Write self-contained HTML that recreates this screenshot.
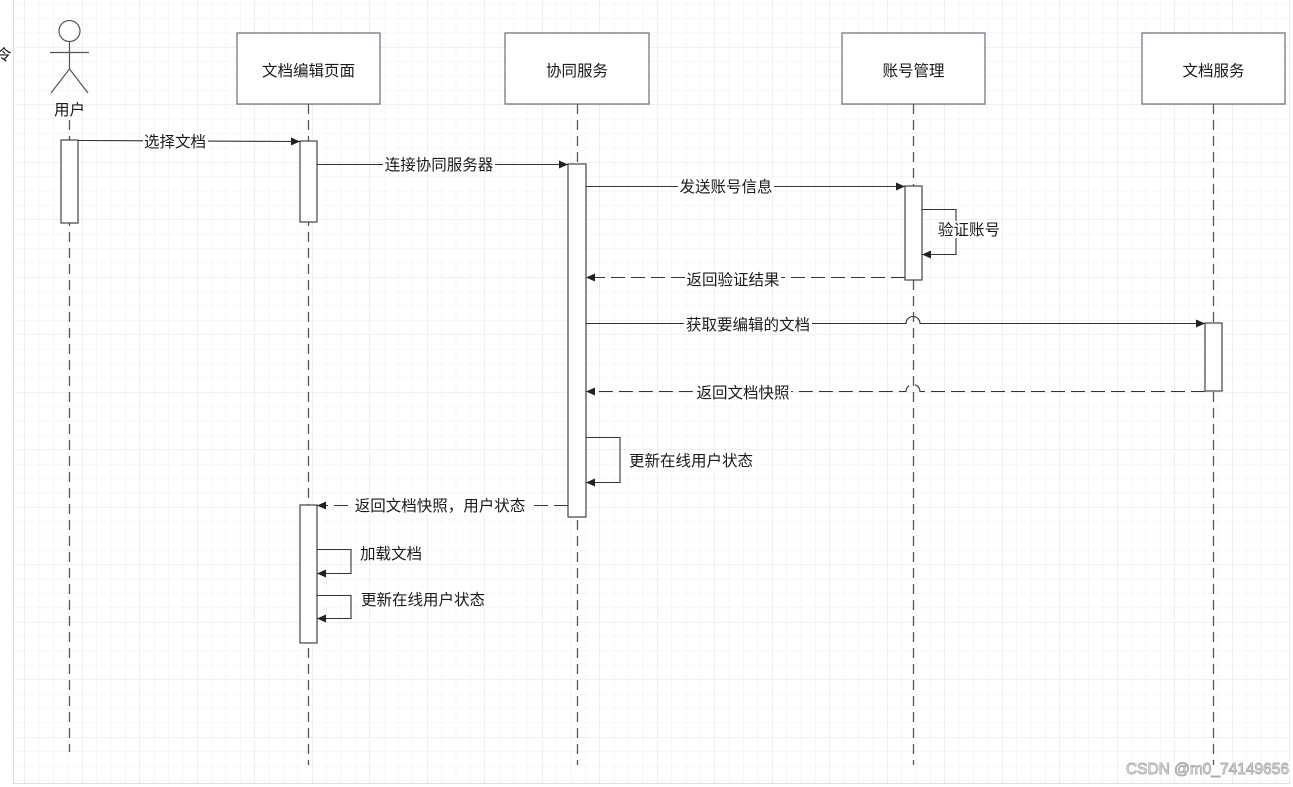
<!DOCTYPE html>
<html><head><meta charset="utf-8"><style>
body{margin:0;background:#fff}
svg{display:block}
text{font-family:"Liberation Sans","Noto Sans CJK SC",sans-serif;font-size:15.5px;fill:#1a1a1a}
</style></head><body>
<svg width="1293" height="787" viewBox="0 0 1293 787" xmlns="http://www.w3.org/2000/svg">
<defs>
<pattern id="minor" x="24.5" y="47" width="14.375" height="14.375" patternUnits="userSpaceOnUse">
<path d="M0 0H14.375M0 0V14.375" stroke="#efefef" stroke-width="1" fill="none"/>
</pattern>
<pattern id="major" x="24.5" y="47" width="57.5" height="57.5" patternUnits="userSpaceOnUse">
<path d="M0 0H57.5M0 0V57.5" stroke="#e0e0e0" stroke-width="1" fill="none"/>
</pattern>
<marker id="ar" markerWidth="10" markerHeight="10" refX="9" refY="5" orient="auto" markerUnits="userSpaceOnUse">
<path d="M0 1L9 5L0 9Z" fill="#222"/>
</marker>
</defs>
<rect x="13" y="0" width="1277" height="783" fill="url(#minor)"/>
<rect x="13" y="0" width="1277" height="783" fill="url(#major)"/>
<line x1="13.5" y1="0" x2="13.5" y2="783" stroke="#ddd"/>
<line x1="13" y1="783.5" x2="1290" y2="783.5" stroke="#ddd"/>
<text x="-4" y="60" font-size="14" fill="#555">令</text>

<g stroke="#555" stroke-width="1.3" stroke-dasharray="10 6" fill="none">
<line x1="69.5" y1="120" x2="69.5" y2="752"/>
<line x1="308.5" y1="104" x2="308.5" y2="765"/>
<line x1="577.5" y1="104" x2="577.5" y2="765"/>
<line x1="913.5" y1="104" x2="913.5" y2="765"/>
<line x1="1213.5" y1="104" x2="1213.5" y2="765"/>
</g>

<g stroke="#555" stroke-width="1.2" fill="none">
<circle cx="69.5" cy="31" r="10.5" fill="#fff"/>
<line x1="69.5" y1="42" x2="69.5" y2="69"/>
<line x1="50" y1="52.5" x2="89" y2="52.5"/>
<line x1="69.5" y1="69" x2="51" y2="93"/>
<line x1="69.5" y1="69" x2="88" y2="93"/>
</g>
<text x="69.5" y="115" text-anchor="middle" font-size="16">用户</text>

<g fill="#fff" stroke="#6b6b80" stroke-width="1.2">
<rect x="237" y="33" width="143" height="71"/>
<rect x="505" y="33" width="144" height="71"/>
<rect x="842" y="33" width="143" height="71"/>
<rect x="1142" y="33" width="143" height="71"/>
</g>
<text x="308.5" y="76" text-anchor="middle">文档编辑页面</text>
<text x="577" y="76" text-anchor="middle">协同服务</text>
<text x="913.5" y="76" text-anchor="middle">账号管理</text>
<text x="1213.5" y="76" text-anchor="middle">文档服务</text>

<g fill="#fff" stroke="#444" stroke-width="1.2">
<rect x="61" y="140" width="17" height="83"/>
<rect x="300" y="141" width="17" height="81"/>
<rect x="568" y="164" width="18" height="353"/>
<rect x="905" y="186" width="17" height="94"/>
<rect x="1205" y="323" width="17" height="68"/>
<rect x="300" y="505" width="17" height="138"/>
</g>

<g stroke="#333" stroke-width="1.1" fill="none" marker-end="url(#ar)">
<line x1="78" y1="140.5" x2="300" y2="141.5"/>
<line x1="317" y1="164.5" x2="568" y2="164.5"/>
<line x1="586" y1="186.5" x2="905" y2="186.5"/>
<path d="M922 209.5H956V254.5H922"/>
<line x1="905" y1="277.5" x2="586" y2="277.5" stroke-dasharray="14 6"/>
<path d="M586 323.5H906A7 7 0 0 1 920 323.5H1205"/>
<path d="M1205 391.5H920A7 7 0 0 0 906 391.5H586" stroke-dasharray="14 6"/>
<path d="M586 437.5H620V482.5H586"/>
<line x1="568" y1="505.5" x2="317" y2="505.5" stroke-dasharray="14 6"/>
<path d="M317 549.5H351V573.5H317"/>
<path d="M317 595.5H351V618.5H317"/>
</g>

<g>
<rect x="143" y="133" width="65" height="17" fill="#fff"/>
<text x="175" y="147" text-anchor="middle">选择文档</text>
<rect x="383" y="156" width="112" height="17" fill="#fff"/>
<text x="439" y="170" text-anchor="middle">连接协同服务器</text>
<rect x="678" y="178" width="96" height="17" fill="#fff"/>
<text x="726" y="192" text-anchor="middle">发送账号信息</text>
<rect x="937" y="221" width="65" height="17" fill="#fff"/>
<text x="969" y="235" text-anchor="middle">验证账号</text>
<rect x="685" y="271" width="96" height="17" fill="#fff"/>
<text x="733" y="285" text-anchor="middle">返回验证结果</text>
<rect x="684" y="316" width="128" height="17" fill="#fff"/>
<text x="748" y="330" text-anchor="middle">获取要编辑的文档</text>
<rect x="695" y="384" width="96" height="17" fill="#fff"/>
<text x="743" y="398" text-anchor="middle">返回文档快照</text>
<rect x="627" y="452" width="128" height="17" fill="#fff"/>
<text x="691" y="466" text-anchor="middle">更新在线用户状态</text>
<rect x="353" y="497" width="175" height="17" fill="#fff"/>
<text x="440" y="511" text-anchor="middle">返回文档快照，用户状态</text>
<rect x="359" y="545" width="65" height="17" fill="#fff"/>
<text x="391" y="559" text-anchor="middle">加载文档</text>
<rect x="359" y="591" width="128" height="17" fill="#fff"/>
<text x="423" y="605" text-anchor="middle">更新在线用户状态</text>
</g>
<text x="1289" y="774" text-anchor="end" font-size="24" style="fill:#fff;stroke:#aaa;stroke-width:0.9">CSDN @m0_74149656</text>
</svg>
</body></html>
